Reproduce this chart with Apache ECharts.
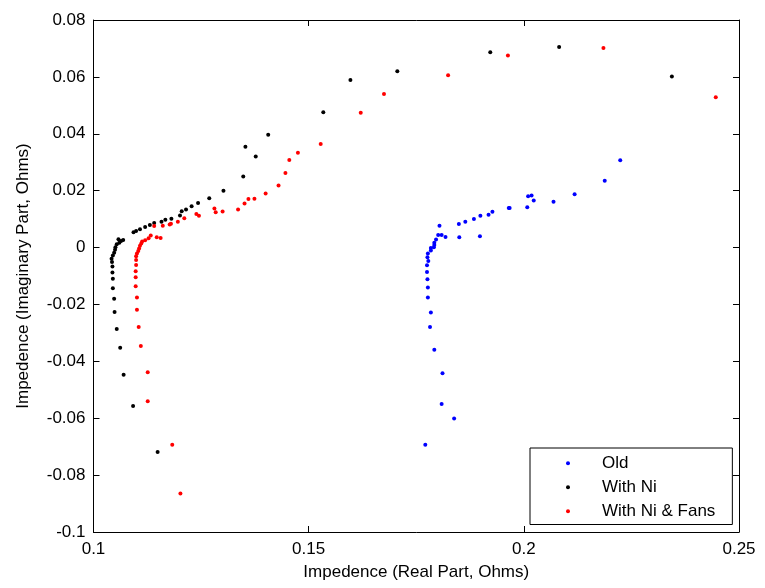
<!DOCTYPE html>
<html>
<head>
<meta charset="utf-8">
<script src="https://cdn.jsdelivr.net/npm/echarts@6/dist/echarts.min.js"></script>
<style>
html,body{margin:0;padding:0;background:#fff;}
#chart{width:765px;height:588px;}
</style>
</head>
<body>
<div id="chart"></div>
<script>
// Tick values
const xTicks = [0.1, 0.15, 0.2, 0.25];
const yTicks = [-0.1, -0.08, -0.06, -0.04, -0.02, 0, 0.02, 0.04, 0.06, 0.08];
const seriesNames = ['Old', 'With Ni', 'With Ni & Fans'];

// Old
const oldRe = [0.2224,0.2188,0.2118,0.2069,0.2023,0.2018,0.2010,0.2008,0.1967,0.1965,0.1927,0.1918,0.1899,0.1884,0.1864,0.1849,0.1898,0.1850,0.1818,0.1809,0.1801,0.1804,0.1796,0.1792,0.1792,0.1791,0.1784,0.1784,0.1777,0.1776,0.1778,0.1775,0.1775,0.1776,0.1777,0.1777,0.1784,0.1782,0.1792,0.1811,0.1809,0.1838,0.1771];
const oldIm = [0.0307,0.0235,0.0187,0.0161,0.0165,0.0183,0.0180,0.0142,0.0139,0.0139,0.0126,0.0115,0.0112,0.0100,0.0091,0.0083,0.0040,0.0036,0.0037,0.0044,0.0044,0.0077,0.0028,0.0017,0.0009,0.0001,-0.0002,-0.0010,-0.0021,-0.0034,-0.0047,-0.0062,-0.0086,-0.0111,-0.0140,-0.0176,-0.0228,-0.0279,-0.0359,-0.0442,-0.0550,-0.0601,-0.0693];

// With Ni
const niRe = [0.2082,0.1922,0.2344,0.1706,0.1597,0.1534,0.1406,0.1353,0.1377,0.1348,0.1302,0.1269,0.1243,0.1228,0.1215,0.1205,0.1201,0.1181,0.1167,0.1158,0.1141,0.1131,0.1120,0.1108,0.1099,0.1093,0.1069,0.1064,0.1058,0.1060,0.1054,0.1051,0.1050,0.1048,0.1045,0.1042,0.1043,0.1044,0.1044,0.1045,0.1045,0.1048,0.1049,0.1054,0.1062,0.1070,0.1092,0.1149];
const niIm = [0.0705,0.0687,0.0601,0.0620,0.0589,0.0476,0.0397,0.0354,0.0320,0.0250,0.0200,0.0173,0.0157,0.0145,0.0134,0.0128,0.0113,0.0101,0.0098,0.0091,0.0086,0.0079,0.0072,0.0064,0.0058,0.0054,0.0027,0.0023,0.0029,0.0017,0.0012,0.0001,-0.0008,-0.0018,-0.0028,-0.0039,-0.0051,-0.0067,-0.0088,-0.0110,-0.0143,-0.0180,-0.0227,-0.0286,-0.0352,-0.0447,-0.0557,-0.0719];

// With Ni & Fans
const fansRe = [0.2185,0.1963,0.1824,0.2446,0.1675,0.1621,0.1528,0.1475,0.1455,0.1446,0.1430,0.1400,0.1374,0.1360,0.1351,0.1336,0.1300,0.1284,0.1281,0.1245,0.1239,0.1211,0.1196,0.1180,0.1177,0.1161,0.1141,0.1156,0.1147,0.1133,0.1128,0.1120,0.1113,0.1111,0.1108,0.1106,0.1104,0.1101,0.1099,0.1099,0.1099,0.1098,0.1098,0.1098,0.1101,0.1101,0.1105,0.1110,0.1126,0.1126,0.1183,0.1202];
const fansIm = [0.0702,0.0675,0.0606,0.0528,0.0540,0.0474,0.0364,0.0333,0.0308,0.0262,0.0218,0.0190,0.0172,0.0171,0.0155,0.0134,0.0127,0.0124,0.0137,0.0112,0.0118,0.0103,0.0091,0.0084,0.0081,0.0077,0.0076,0.0034,0.0036,0.0042,0.0033,0.0026,0.0021,0.0014,0.0006,-0.0003,-0.0012,-0.0021,-0.0031,-0.0044,-0.0061,-0.0083,-0.0104,-0.0136,-0.0176,-0.0219,-0.0279,-0.0346,-0.0438,-0.0540,-0.0693,-0.0865];

const zip = (a, b) => a.map((v, i) => [v, b[i]]);
const fmt = v => String(Number(v.toFixed(3)));
const FONT = 'Liberation Sans, Arial, sans-serif';

const chart = echarts.init(document.getElementById('chart'), null, {renderer: 'canvas'});

const axisBase = {
  axisLine: {show: true, onZero: false, lineStyle: {color: '#000', width: 1}},
  axisTick: {show: true, inside: true, length: 6, lineStyle: {color: '#000'}},
  splitLine: {show: false},
  axisLabel: {color: '#000', fontFamily: FONT, fontSize: 17, formatter: fmt}
};

chart.setOption({
  animation: false,
  backgroundColor: '#fff',
  grid: {left: 93.5, right: 26, top: 20, bottom: 56, containLabel: false},
  xAxis: [
    Object.assign({}, axisBase, {
      type: 'value', position: 'bottom',
      min: xTicks[0], max: xTicks[xTicks.length - 1], interval: 0.05,
      name: 'Impedence (Real Part, Ohms)', nameLocation: 'middle', nameGap: 32,
      nameTextStyle: {color: '#000', fontFamily: FONT, fontSize: 17},
      axisLabel: Object.assign({}, axisBase.axisLabel, {margin: 9})
    }),
    Object.assign({}, axisBase, {
      type: 'value', position: 'top',
      min: xTicks[0], max: xTicks[xTicks.length - 1], interval: 0.05,
      axisLabel: {show: false}
    })
  ],
  yAxis: [
    Object.assign({}, axisBase, {
      type: 'value', position: 'left',
      min: yTicks[0], max: yTicks[yTicks.length - 1], interval: 0.02,
      name: 'Impedence (Imaginary Part, Ohms)', nameLocation: 'middle', nameGap: 62,
      nameTextStyle: {color: '#000', fontFamily: FONT, fontSize: 17},
      axisLabel: Object.assign({}, axisBase.axisLabel, {margin: 8})
    }),
    Object.assign({}, axisBase, {
      type: 'value', position: 'right',
      min: yTicks[0], max: yTicks[yTicks.length - 1], interval: 0.02,
      axisLabel: {show: false}
    })
  ],
  legend: {
    orient: 'vertical',
    left: 530, top: 448,
    padding: [6, 17, 4, 36],
    itemGap: 5.5,
    itemWidth: 4, itemHeight: 4,
    icon: 'circle',
    backgroundColor: '#fff',
    borderColor: '#000', borderWidth: 1,
    textStyle: {color: '#000', fontFamily: FONT, fontSize: 17, lineHeight: 18.5, padding: [0, 0, 0, 27]},
    data: seriesNames
  },
  series: [
    {name: seriesNames[0], type: 'scatter', data: zip(oldRe, oldIm), symbol: 'circle', symbolSize: 4, itemStyle: {color: '#0000ff', opacity: 1}},
    {name: seriesNames[1], type: 'scatter', data: zip(niRe, niIm), symbol: 'circle', symbolSize: 4, itemStyle: {color: '#000000', opacity: 1}},
    {name: seriesNames[2], type: 'scatter', data: zip(fansRe, fansIm), symbol: 'circle', symbolSize: 4, itemStyle: {color: '#ff0000', opacity: 1}}
  ]
});
</script>
</body>
</html>
